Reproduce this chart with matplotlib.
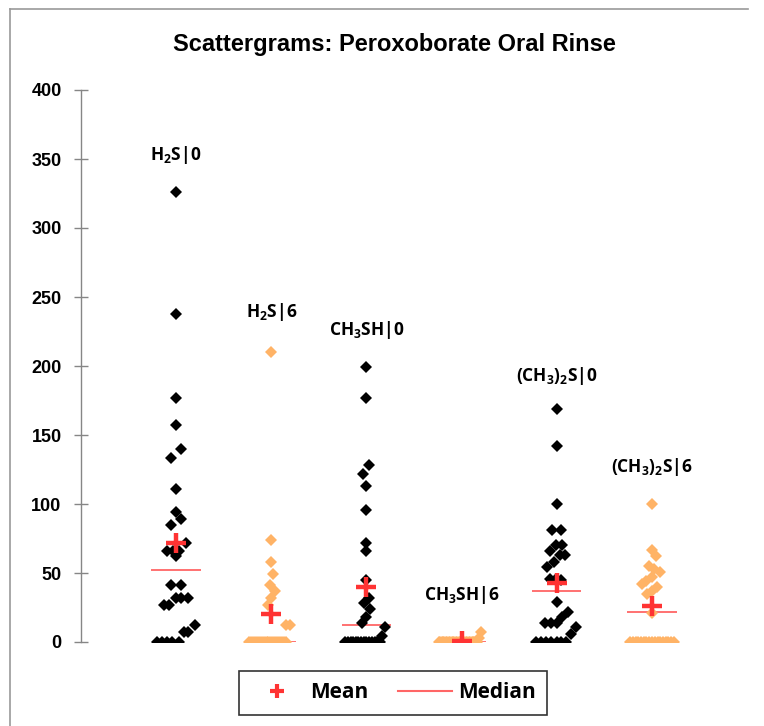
import matplotlib
matplotlib.use("Agg")
import matplotlib.pyplot as plt
from matplotlib.lines import Line2D

plt.rcParams['mathtext.default'] = 'regular'

# ========================
# DATA
# ========================
group_labels = ['H$_2$S|0', 'H$_2$S|6', 'CH$_3$SH|0', 'CH$_3$SH|6',
                '(CH$_3$)$_2$S|0', '(CH$_3$)$_2$S|6']
group_colors = ['black', '#FFB366', 'black', '#FFB366', 'black', '#FFB366']

h2s_0 = [326, 238, 177, 157, 140, 133, 111, 94, 89, 85, 72, 66, 66, 66, 62,
         41, 41, 32, 32, 32, 27, 27, 12, 7, 7, 0, 0, 0, 0, 0]
h2s_0_dx = [0, 0, 0, 0, 0.05, -0.05, 0, 0, 0.05, -0.05, 0.10, -0.10, -0.03, 0.03, 0,
            -0.05, 0.05, 0, 0.05, 0.12, -0.13, -0.07, 0.20, 0.08, 0.12,
            -0.20, -0.15, -0.095, -0.04, 0.03]

h2s_6 = [210, 74, 58, 49, 41, 37, 32, 27, 12, 12,
         0, 0, 0, 0, 0, 0, 0, 0, 0, 0, 0, 0, 0, 0, 0, 0, 0, 0, 0, 0]
h2s_6_dx = [0, 0, 0, 0.02, -0.015, 0.04, 0, -0.035, 0.15, 0.20,
            -0.23, -0.21, -0.19, -0.17, -0.15, -0.13, -0.11, -0.09, -0.07, -0.05,
            -0.03, -0.01, 0.01, 0.03, 0.05, 0.07, 0.09, 0.11, 0.13, 0.15]

ch3sh_0 = [199, 177, 128, 122, 113, 96, 72, 66, 45, 32, 28, 24, 18, 14, 11, 4,
           0, 0, 0, 0, 0, 0, 0, 0, 0, 0, 0, 0, 0, 0]
ch3sh_0_dx = [0, 0, 0.03, -0.035, 0, 0, 0, 0, 0, 0.03, -0.03, 0.04, 0, -0.05, 0.20, 0.16,
              -0.22, -0.19, -0.165, -0.14, -0.11, -0.085, -0.055, -0.03, 0, 0.03,
              0.055, 0.085, 0.11, 0.14]

ch3sh_6 = [7, 3, 0, 0, 0, 0, 0, 0, 0, 0, 0, 0, 0, 0, 0, 0, 0, 0, 0, 0,
           0, 0, 0, 0, 0, 0, 0, 0, 0, 0]
ch3sh_6_dx = [0.20, 0.18, -0.24, -0.225, -0.21, -0.195, -0.18, -0.165, -0.15, -0.135,
              -0.12, -0.105, -0.09, -0.075, -0.06, -0.045, -0.03, -0.015, 0, 0.015,
              0.03, 0.045, 0.06, 0.075, 0.09, 0.105, 0.12, 0.135, 0.15, 0.165]

dms_0 = [169, 142, 100, 81, 81, 70, 70, 66, 63, 63, 58, 54, 46, 46, 45, 29, 22, 18,
         14, 14, 14, 11, 6, 0, 0, 0, 0, 0, 0, 0]
dms_0_dx = [0, 0, 0, -0.05, 0.045, -0.01, 0.06, -0.07, 0.03, 0.09, -0.03, -0.10,
            -0.07, -0.01, 0.045, 0, 0.115, 0.06, -0.12, -0.06, 0, 0.20, 0.15,
            -0.22, -0.165, -0.11, -0.06, 0, 0.045, 0.10]

dms_6 = [100, 67, 62, 55, 53, 51, 47, 44, 42, 40, 37, 35, 21,
         0, 0, 0, 0, 0, 0, 0, 0, 0, 0, 0, 0, 0, 0, 0, 0, 0]
dms_6_dx = [0, 0, 0.04, -0.03, 0.025, 0.085, 0, -0.065, -0.10, 0.05, 0, -0.055, 0,
            -0.23, -0.20, -0.17, -0.145, -0.115, -0.085, -0.06, -0.03, 0, 0.03,
            0.06, 0.085, 0.115, 0.145, 0.17, 0.20, 0.23]

means = [72, 20, 40, 0.5, 43, 26]
medians = [52, 0, 12, 0, 37, 21.5]

values = [h2s_0, h2s_6, ch3sh_0, ch3sh_6, dms_0, dms_6]
offsets = [h2s_0_dx, h2s_6_dx, ch3sh_0_dx, ch3sh_6_dx, dms_0_dx, dms_6_dx]

# ========================
# FIGURE
# ========================
fig = plt.figure(figsize=(7.64, 7.26), dpi=100)
ax = fig.add_axes([81 / 764, 1 - 642 / 726, 666 / 764, 552 / 726])

label_font = ['Open Sans', 'DejaVu Sans']
label_y = [353, 239, 226, 34, 193, 127]

for i, (vals, dx) in enumerate(zip(values, offsets)):
    pos = i + 1
    xs = [pos + d for d in dx]
    ax.plot([pos - 0.26, pos + 0.26], [medians[i], medians[i]], color='#FF6666',
            lw=1.3, zorder=2, solid_capstyle='butt')
    ax.plot(xs, vals, 'D', color=group_colors[i], ms=6, mew=0, zorder=3)
    ax.plot(pos, means[i], '+', color='#FF3333', ms=15, mew=3.2, zorder=4)
    ax.text(pos, label_y[i], group_labels[i], ha='center', va='center',
            fontsize=12.5, fontweight='bold', family=label_font)

ax.set_xlim(0, 7)
ax.set_ylim(0, 400)
ax.set_yticks(range(0, 401, 50))
ax.set_xticks([])
for s in ['top', 'right', 'bottom']:
    ax.spines[s].set_visible(False)
ax.spines['left'].set_color('#868686')
ax.spines['left'].set_linewidth(1.0)
ax.tick_params(axis='y', direction='inout', length=10, width=1.0, color='#868686',
               pad=9, labelsize=13)
for lab in ax.get_yticklabels():
    lab.set_fontweight('bold')
    lab.set_family('Liberation Sans')

fig.text(394 / 764, 1 - 45 / 726, 'Scattergrams: Peroxoborate Oral Rinse',
         ha='center', va='center', fontsize=17, fontweight='bold', family='Liberation Sans')

# outer chart border (left and top edges visible)
fig.add_artist(Line2D([10 / 764, 10 / 764], [0, 1 - 9 / 726], color='#999999', lw=1.2))
fig.add_artist(Line2D([10 / 764, 748 / 764], [1 - 9 / 726, 1 - 9 / 726], color='#999999', lw=1.2))

handles = [Line2D([], [], ls='none', marker='+', color='#FF3333', ms=10, mew=3),
           Line2D([], [], color='#FF6666', lw=1.5)]
leg = fig.legend(handles, ['Mean', 'Median'], loc='center', ncol=2,
                 bbox_to_anchor=(393 / 764, 1 - 693 / 726),
                 prop={'family': label_font, 'weight': 'bold', 'size': 15},
                 frameon=True, fancybox=False, edgecolor='black',
                 handlelength=2.6, handletextpad=0.3, columnspacing=1.4,
                 borderpad=0.55, borderaxespad=0)
leg.get_frame().set_linewidth(1.2)

fig.savefig('out.png', dpi=100)
